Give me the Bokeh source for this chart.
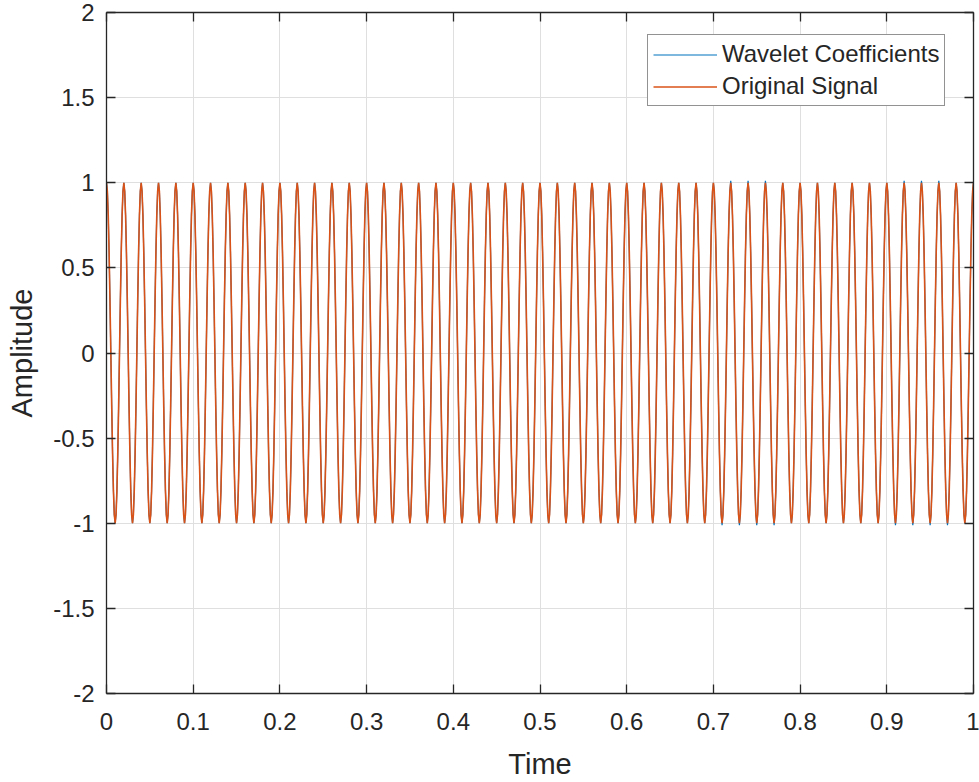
import numpy as np
from bokeh.plotting import figure
from bokeh.models import (LinearAxis, Range1d, FixedTicker, Legend, LegendItem,
                          CustomLabelingPolicy)
from bokeh.embed import file_html
from bokeh.resources import INLINE

# ---------------- data ----------------
time_step = 0.001          # seconds between samples
n_cycles = 50              # full periods visible between t=0 and t=1
# one period of the original signal as sampled (starts at a crest)
signal_cycle = [1.0, 0.95, 0.81, 0.59, 0.31, 0.0, -0.31, -0.59, -0.81, -0.95,
                -1.0, -0.95, -0.81, -0.59, -0.31, 0.0, 0.31, 0.59, 0.81, 0.95]
# tips where the wavelet coefficients poke out beyond the original signal
coef_tip_times = [0.71, 0.72, 0.73, 0.74, 0.75, 0.76, 0.77,
                  0.91, 0.92, 0.93, 0.94, 0.95, 0.96, 0.97]
coef_tip_values = [-1.012, 1.012, -1.012, 1.012, -1.012, 1.012, -1.012,
                   -1.012, 1.012, -1.012, 1.012, -1.012, 1.012, -1.012]

x_ticks = [0, 0.1, 0.2, 0.3, 0.4, 0.5, 0.6, 0.7, 0.8, 0.9, 1]
x_tick_labels = ["0", "0.1", "0.2", "0.3", "0.4", "0.5", "0.6", "0.7", "0.8", "0.9", "1"]
y_ticks = [-2, -1.5, -1, -0.5, 0, 0.5, 1, 1.5, 2]
y_tick_labels = ["-2", "-1.5", "-1", "-0.5", "0", "0.5", "1", "1.5", "2"]

series_names = ["Wavelet Coefficients", "Original Signal"]
x_label = "Time"
y_label = "Amplitude"

# ---------------- build series ----------------
signal = np.array(signal_cycle * n_cycles + [signal_cycle[0]], dtype=float)
t = np.arange(len(signal)) * time_step
coeffs = signal.copy()
for tt, v in zip(coef_tip_times, coef_tip_values):
    coeffs[int(round(tt / time_step))] = v

# ---------------- styling ----------------
FONT = "Liberation Sans"
AX_COL = "#262626"
GRID_COL = "#dfdfdf"
BLUE = "#0072BD"
ORANGE = "#D95319"

p = figure(width=979, height=782,
           x_range=Range1d(0, 1), y_range=Range1d(-2, 2),
           output_backend="svg", toolbar_location=None,
           min_border_left=106, min_border_right=6,
           min_border_top=12, min_border_bottom=84,
           x_axis_label=x_label, y_axis_label=y_label)
p.outline_line_color = None
p.background_fill_color = "white"
p.border_fill_color = "white"

r_coef = p.line(t, coeffs, line_color=BLUE, line_width=1.2)
r_sig = p.line(t, signal, line_color=ORANGE, line_width=1.6)

xticker = FixedTicker(ticks=x_ticks)
yticker = FixedTicker(ticks=y_ticks)

for ax in p.xaxis:
    ax.ticker = xticker
    ax.major_label_overrides = {v: s for v, s in zip(x_ticks, x_tick_labels)}
    ax.major_label_standoff = 19
    ax.axis_label_standoff = 15
for ax in p.yaxis:
    ax.ticker = yticker
    ax.major_label_overrides = {v: s for v, s in zip(y_ticks, y_tick_labels)}
    ax.major_label_standoff = 12
    ax.axis_label_standoff = 12

for ax in list(p.xaxis) + list(p.yaxis):
    ax.major_tick_in = 9
    ax.major_tick_out = 0
    ax.minor_tick_line_color = None
    ax.axis_line_color = AX_COL
    ax.axis_line_width = 1.3
    ax.major_tick_line_color = AX_COL
    ax.major_tick_line_width = 1.3
    ax.major_label_text_font = FONT
    ax.major_label_text_font_size = "24px"
    ax.major_label_text_color = AX_COL
    ax.axis_label_text_font = FONT
    ax.axis_label_text_font_size = "29px"
    ax.axis_label_text_font_style = "normal"
    ax.axis_label_text_color = AX_COL

# mirrored box axes (top and right): ticks only, no labels drawn
for loc, tk in (("above", xticker), ("right", yticker)):
    ax = LinearAxis(ticker=tk)
    ax.major_label_policy = CustomLabelingPolicy(code="return []")
    ax.major_label_text_font_size = "1px"
    ax.major_tick_in = 9
    ax.major_tick_out = 0
    ax.minor_tick_line_color = None
    ax.axis_line_color = AX_COL
    ax.axis_line_width = 1.3
    ax.major_tick_line_color = AX_COL
    ax.major_tick_line_width = 1.3
    ax.major_label_standoff = 0
    p.add_layout(ax, loc)

p.xgrid.ticker = xticker
p.ygrid.ticker = yticker
for g in (p.xgrid[0], p.ygrid[0]):
    g.grid_line_color = GRID_COL
    g.grid_line_width = 1

legend = Legend(items=[LegendItem(label=series_names[0], renderers=[r_coef]),
                       LegendItem(label=series_names[1], renderers=[r_sig])],
                location=(541, 587))
legend.label_text_font = FONT
legend.label_text_font_size = "24px"
legend.label_text_color = AX_COL
legend.border_line_color = AX_COL
legend.border_line_width = 1
legend.background_fill_color = "white"
legend.background_fill_alpha = 1
legend.glyph_width = 64
legend.glyph_height = 27
legend.spacing = 4
legend.padding = 5
legend.label_standoff = 5
legend.margin = 0
p.add_layout(legend)

open("out.html", "w").write(file_html(p, INLINE))
